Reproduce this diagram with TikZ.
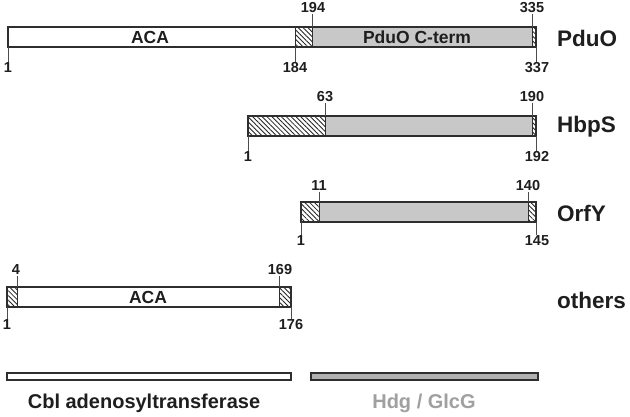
\documentclass[tikz,border=0pt]{standalone}
\usepackage{fontspec}
\setmainfont{Liberation Sans}
\usetikzlibrary{patterns.meta}
\definecolor{barline}{HTML}{2E2E2E}
\definecolor{cterm}{HTML}{C8C8C8}
\definecolor{legray}{HTML}{B0B0B0}
\definecolor{txt}{HTML}{1E1E1E}
\definecolor{hdgtxt}{HTML}{A0A0A0}
\tikzset{
  barframe/.style={draw=barline, line width=1.3pt},
  seg/.style={draw=barline, line width=0.9pt},
  hatchfill/.style={pattern={Lines[angle=-45,distance=3.4pt,line width=0.85pt]}, pattern color=black!85},
  grayfill/.style={fill=cterm},
  whitefill/.style={fill=white},
  tickline/.style={draw=black!70, line width=0.6pt},
  num/.style={font=\fontsize{14.5}{14.5}\selectfont\bfseries, text=txt, inner sep=1pt},
  inlab/.style={font=\fontsize{17.5}{17.5}\selectfont\bfseries, text=txt, inner sep=0pt},
  protlab/.style={font=\fontsize{22.5}{22.5}\selectfont\bfseries, text=txt, inner sep=0pt, anchor=west},
  leglab/.style={font=\fontsize{20}{20}\selectfont\bfseries, inner sep=0pt},
}
\begin{document}
\begin{tikzpicture}[x=1pt,y=1pt]
\useasboundingbox[fill=white] (0,0) rectangle (630,417);

% ---------------- PduO (y 370..390)
\fill[whitefill] (8,370) rectangle (295,390);
\fill[hatchfill] (295,370) rectangle (312,390);
\fill[grayfill] (312,370) rectangle (532,390);
\fill[hatchfill] (532,370) rectangle (536,390);
\draw[seg] (295,370) -- (295,390) (312,370) -- (312,390) (532,370) -- (532,390);
\draw[barframe] (8,370) rectangle (536,390);
\node[inlab] (pACA) at (150,380) {ACA};
\node[inlab] (pCt) at (417,380) {PduO C-term};
\node[protlab] (PduO) at (557,379) {PduO};
\coordinate (a1) at (8,370);   \node[num] (la1) at (8,349) {1};
\coordinate (a184) at (295,370); \node[num] (la184) at (295,349) {184};
\coordinate (a194) at (312,390); \node[num] (la194) at (313,409) {194};
\coordinate (a335) at (532,390); \node[num] (la335) at (532,409) {335};
\coordinate (a337) at (536,370); \node[num] (la337) at (537,349) {337};
\draw[tickline] (a1) -- (la1.north) (a184) -- (la184.north) (a337) -- (la337.north -| a337)
  (a194) -- (la194.south -| a194) (a335) -- (la335.south);

% ---------------- HbpS (y 281..301)
\fill[hatchfill] (248,281) rectangle (325,301);
\fill[grayfill] (325,281) rectangle (532,301);
\fill[hatchfill] (532,281) rectangle (536,301);
\draw[seg] (325,281) -- (325,301) (532,281) -- (532,301);
\draw[barframe] (248,281) rectangle (536,301);
\node[protlab] (HbpS) at (557,290) {HbpS};
\coordinate (b1) at (248,281);   \node[num] (lb1) at (248,260) {1};
\coordinate (b63) at (325,301);  \node[num] (lb63) at (325,320) {63};
\coordinate (b190) at (532,301); \node[num] (lb190) at (532,320) {190};
\coordinate (b192) at (536,281); \node[num] (lb192) at (537,260) {192};
\draw[tickline] (b1) -- (lb1.north) (b192) -- (lb192.north -| b192)
  (b63) -- (lb63.south) (b190) -- (lb190.south);

% ---------------- OrfY (y 195..215)
\fill[hatchfill] (301,195) rectangle (319,215);
\fill[grayfill] (319,195) rectangle (528,215);
\fill[hatchfill] (528,195) rectangle (536,215);
\draw[seg] (319,195) -- (319,215) (528,195) -- (528,215);
\draw[barframe] (301,195) rectangle (536,215);
\node[protlab] (OrfY) at (557,204) {OrfY};
\coordinate (c1) at (301,195);   \node[num] (lc1) at (301,176) {1};
\coordinate (c11) at (319,215);  \node[num] (lc11) at (319,231) {11};
\coordinate (c140) at (528,215); \node[num] (lc140) at (528,231) {140};
\coordinate (c145) at (536,195); \node[num] (lc145) at (537,176) {145};
\draw[tickline] (c1) -- (lc1.north) (c145) -- (lc145.north -| c145)
  (c11) -- (lc11.south) (c140) -- (lc140.south);

% ---------------- others (y 110..130)
\fill[hatchfill] (7,110) rectangle (17,130);
\fill[whitefill] (17,110) rectangle (279,130);
\fill[hatchfill] (279,110) rectangle (291,130);
\draw[seg] (17,110) -- (17,130) (279,110) -- (279,130);
\draw[barframe] (7,110) rectangle (291,130);
\node[inlab] (oACA) at (148,120) {ACA};
\node[protlab] (others) at (557,117) {others};
\coordinate (d1) at (7,110);     \node[num] (ld1) at (7,92) {1};
\coordinate (d4) at (17,130);    \node[num] (ld4) at (16,147) {4};
\coordinate (d169) at (279,130); \node[num] (ld169) at (280,147) {169};
\coordinate (d176) at (291,110); \node[num] (ld176) at (291,92) {176};
\draw[tickline] (d1) -- (ld1.north -| d1) (d176) -- (ld176.north)
  (d4) -- (ld4.south -| d4) (d169) -- (ld169.south -| d169);

% ---------------- legend
\draw[barframe, fill=white, line width=1.1pt] (7,37) rectangle (291,44);
\draw[barframe, fill=legray, line width=1.1pt] (311,37) rectangle (538,44);
\node[leglab, text=txt] (cbl) at (144,14) {Cbl adenosyltransferase};
\node[leglab, text=hdgtxt] (hdg) at (424,14) {Hdg / GlcG};
\end{tikzpicture}
\end{document}
